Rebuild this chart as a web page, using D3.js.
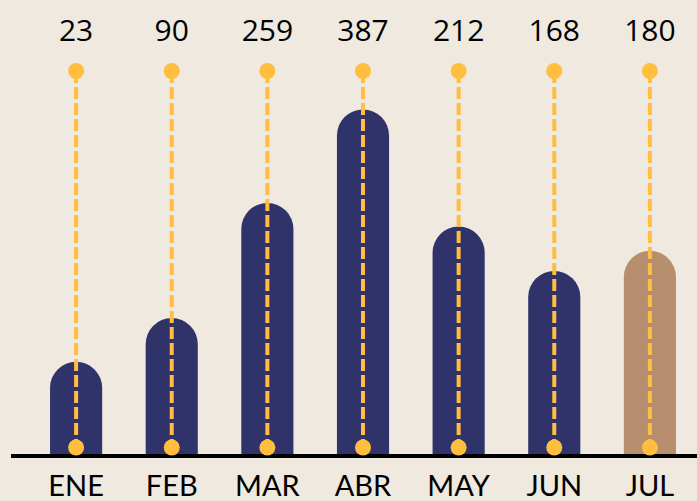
<!DOCTYPE html>
<html>
<head>
<meta charset="utf-8">
<script src="https://cdn.jsdelivr.net/npm/d3@7"></script>
<style>
  html, body { margin: 0; padding: 0; background: #efe9df; }
  svg { display: block; }
</style>
</head>
<body>
<div id="chart"></div>
<script>
// datos
const months = ["ENE", "FEB", "MAR", "ABR", "MAY", "JUN", "JUL"];
const labelValues = [23, 90, 259, 387, 212, 168, 180];
// altura de cada barra (misma escala)
const barLevels = [23, 86, 252, 387, 218, 154, 183];
const highlight = "JUL";

function drawChart() {
    const width = 697, height = 501;
    const baseY = 454;

    const svg = d3.select("#chart")
        .append("svg")
        .attr("width", width)
        .attr("height", height);

    svg.append("rect")
        .attr("width", width)
        .attr("height", height)
        .attr("fill", "#efe9df");

    const x = d3.scaleBand()
        .domain(months)
        .range([29, 697])
        .paddingInner(0.455)
        .paddingOuter(0.22);

    const y = d3.scaleLinear()
        .domain([-110, 400])
        .range([baseY, baseY - 510 * 0.6934]);

    const bw = x.bandwidth();
    const r = bw / 2;

    const data = months.map((m, i) => ({ month: m, label: labelValues[i], level: barLevels[i] }));

    // barras con tope redondeado
    svg.selectAll(".bar")
        .data(data)
        .join("path")
        .attr("class", "bar")
        .attr("fill", d => d.month === highlight ? "#b78e6e" : "#303369")
        .attr("d", d => {
            const x0 = x(d.month), x1 = x0 + bw, top = y(d.level);
            return `M${x0},${baseY} L${x0},${top + r} A${r},${r} 0 0 1 ${x1},${top + r} L${x1},${baseY} Z`;
        });

    // eje
    svg.append("line")
        .attr("x1", 11)
        .attr("x2", width)
        .attr("y1", baseY + 2)
        .attr("y2", baseY + 2)
        .attr("stroke", "#000")
        .attr("stroke-width", 4);

    const cx = d => x(d.month) + bw / 2;
    const topDotY = 71, bottomDotY = 447.5;

    // líneas punteadas
    svg.selectAll(".stem")
        .data(data)
        .join("line")
        .attr("class", "stem")
        .attr("x1", cx)
        .attr("x2", cx)
        .attr("y1", topDotY)
        .attr("y2", bottomDotY)
        .attr("stroke", "#ffbe3d")
        .attr("stroke-width", 4)
        .attr("stroke-dasharray", "12,4");

    [topDotY, bottomDotY].forEach(py => {
        svg.selectAll(null)
            .data(data)
            .join("circle")
            .attr("cx", cx)
            .attr("cy", py)
            .attr("r", 8)
            .attr("fill", "#ffbe3d");
    });

    // valores arriba
    svg.selectAll(".value")
        .data(data)
        .join("text")
        .attr("class", "value")
        .attr("x", cx)
        .attr("y", 40.5)
        .attr("text-anchor", "middle")
        .attr("fill", "#000")
        .style("font-family", "'Open Sans', sans-serif")
        .style("font-size", "30px")
        .text(d => d.label);

    // etiquetas de mes
    svg.selectAll(".month")
        .data(data)
        .join("text")
        .attr("class", "month")
        .attr("x", cx)
        .attr("y", 496)
        .attr("text-anchor", "middle")
        .attr("fill", "#000")
        .style("font-family", "Lato, sans-serif")
        .style("font-size", "29px")
        .text(d => d.month);
}

drawChart();
</script>
</body>
</html>
